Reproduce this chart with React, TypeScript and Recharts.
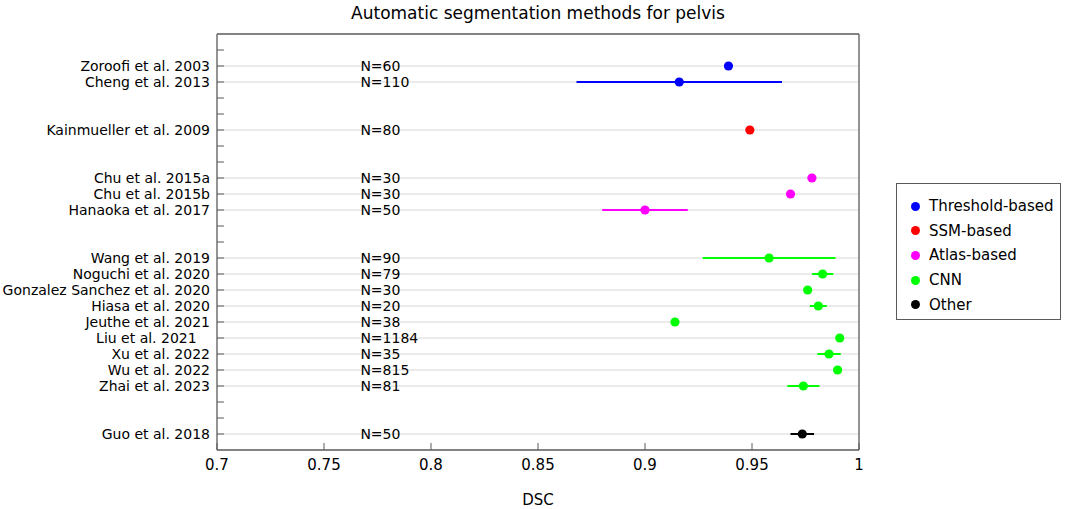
import { ScatterChart, Scatter, XAxis, YAxis, ErrorBar, ReferenceLine, Legend, Label } from 'recharts';

const STUDIES = [
  'Zoroofi et al. 2003',
  'Cheng et al. 2013',
  'Kainmueller et al. 2009',
  'Chu et al. 2015a',
  'Chu et al. 2015b',
  'Hanaoka et al. 2017',
  'Wang et al. 2019',
  'Noguchi et al. 2020',
  'Gonzalez Sanchez et al. 2020',
  'Hiasa et al. 2020',
  'Jeuthe et al. 2021',
  'Liu et al. 2021   ',
  'Xu et al. 2022',
  'Wu et al. 2022',
  'Zhai et al. 2023',
  'Guo et al. 2018',
];
// row position of each study on the y axis (blank rows separate the groups)
const ROWS = [2, 3, 6, 9, 10, 11, 14, 15, 16, 17, 18, 19, 20, 21, 22, 25];
const METHODS = [
  'Threshold-based', 'Threshold-based',
  'SSM-based',
  'Atlas-based', 'Atlas-based', 'Atlas-based',
  'CNN', 'CNN', 'CNN', 'CNN', 'CNN', 'CNN', 'CNN', 'CNN', 'CNN',
  'Other',
];
const DSC = [0.939, 0.916, 0.949, 0.978, 0.968, 0.9, 0.958, 0.983, 0.976, 0.981, 0.914, 0.991, 0.986, 0.99, 0.974, 0.9735];
const DSC_SD = [0, 0.048, 0, 0, 0, 0.02, 0.031, 0.005, 0, 0.004, 0, 0, 0.0055, 0, 0.0075, 0.0055];
const SAMPLE_SIZE = ['N=60', 'N=110', 'N=80', 'N=30', 'N=30', 'N=50', 'N=90', 'N=79', 'N=30', 'N=20', 'N=38', 'N=1184', 'N=35', 'N=815', 'N=81', 'N=50'];

const CATEGORIES = ['Threshold-based', 'SSM-based', 'Atlas-based', 'CNN', 'Other'];
const CATEGORY_COLORS = ['#0000ff', '#ff0000', '#ff00ff', '#00ff00', '#000000'];

const DSC_TICKS = [0.7, 0.75, 0.8, 0.85, 0.9, 0.95, 1];
const ROW_TICKS = [1, 2, 3, 4, 5, 6, 7, 8, 9, 10, 11, 12, 13, 14, 15, 16, 17, 18, 19, 20, 21, 22, 23, 24, 25];
const N_COLUMN = 0.767;

const FONT = '"DejaVu Sans", sans-serif';
const AXIS_COLOR = '#5a5a5a';
const TICK_LEN = 7;
const TICK_GAP = 7;

const studies = STUDIES.map((name, i) => ({
  name,
  row: ROWS[i],
  dsc: DSC[i],
  sd: DSC_SD[i],
  n: SAMPLE_SIZE[i],
  method: METHODS[i],
}));

const nLabels = studies.map((s) => ({ row: s.row, dsc: N_COLUMN, n: s.n }));

function RowLabelTick({ x, y, payload }: any) {
  const idx = ROWS.indexOf(payload.value);
  return (
    <g>
      <line x1={x + TICK_GAP} x2={x + TICK_GAP + TICK_LEN} y1={y} y2={y} stroke={AXIS_COLOR} />
      {idx >= 0 && (
        <text x={x} y={y} textAnchor="end" dominantBaseline="central" fontSize={14} fontFamily={FONT} fill="#000" style={{ whiteSpace: 'pre' }}>
          {STUDIES[idx]}
        </text>
      )}
    </g>
  );
}

function RightTick({ x, y }: any) {
  return <line x1={x} x2={x - TICK_LEN} y1={y} y2={y} stroke={AXIS_COLOR} />;
}

function TopTick({ x, y }: any) {
  return <line x1={x} x2={x} y1={y} y2={y + TICK_LEN} stroke={AXIS_COLOR} />;
}

function BottomTick({ x, y, payload }: any) {
  return (
    <g>
      <line x1={x} x2={x} y1={y} y2={y - TICK_LEN} stroke={AXIS_COLOR} />
      <text x={x} y={y + 15} textAnchor="middle" dominantBaseline="central" fontSize={15} fontFamily={FONT} fill="#000">
        {String(payload.value)}
      </text>
    </g>
  );
}

function Dot({ cx, cy, fill }: any) {
  return <circle cx={cx} cy={cy} r={4.6} fill={fill} />;
}

function NText({ cx, cy, payload }: any) {
  return (
    <text x={cx} y={cy} dominantBaseline="central" fontSize={14} fontFamily={FONT} fill="#000">
      {payload.n}
    </text>
  );
}

function LegendBox({ payload }: any) {
  const items = (payload || [])
    .filter((e: any) => CATEGORIES.includes(e.value))
    .sort((a: any, b: any) => CATEGORIES.indexOf(a.value) - CATEGORIES.indexOf(b.value));
  return (
    <div
      style={{
        width: 165,
        height: 137,
        boxSizing: 'border-box',
        border: `1px solid ${AXIS_COLOR}`,
        background: '#fff',
        paddingTop: 10,
        fontFamily: FONT,
        fontSize: 15,
      }}
    >
      {items.map((entry: any) => (
        <div key={entry.value} style={{ display: 'flex', alignItems: 'center', height: 24.6 }}>
          <span
            style={{
              display: 'inline-block',
              width: 9,
              height: 9,
              borderRadius: '50%',
              background: entry.color,
              marginLeft: 14,
              marginRight: 9,
            }}
          />
          <span style={{ color: '#000' }}>{entry.value}</span>
        </div>
      ))}
    </div>
  );
}

export default function App() {
  return (
    <div style={{ position: 'absolute', left: 0, top: 0 }}>
      <ScatterChart width={1065} height={509} margin={{ top: 0, right: 0, bottom: 0, left: 0 }} style={{ fontFamily: FONT }}>
        <XAxis
          xAxisId="bottom"
          type="number"
          dataKey="dsc"
          domain={[0.7, 1]}
          ticks={DSC_TICKS}
          interval={0}
          height={59}
          tickSize={0}
          tickMargin={0}
          tickLine={false}
          axisLine={{ stroke: AXIS_COLOR, strokeWidth: 1.3 }}
          tick={<BottomTick />}
        >
          <Label value="DSC" position="insideBottom" offset={4} fontSize={15} fontFamily={FONT} fill="#000" />
        </XAxis>
        <XAxis
          xAxisId="top"
          orientation="top"
          type="number"
          domain={[0.7, 1]}
          ticks={DSC_TICKS}
          interval={0}
          height={34}
          tickSize={0}
          tickMargin={0}
          tickLine={false}
          axisLine={{ stroke: AXIS_COLOR, strokeWidth: 1.3 }}
          tick={<TopTick />}
        >
          <Label value="Automatic segmentation methods for pelvis" position="insideTop" offset={7} fontSize={17} fontFamily={FONT} fill="#000" />
        </XAxis>
        <YAxis
          yAxisId="left"
          type="number"
          dataKey="row"
          domain={[0, 26]}
          reversed
          ticks={ROW_TICKS}
          interval={0}
          width={217}
          tickSize={0}
          tickMargin={TICK_GAP}
          tickLine={false}
          axisLine={{ stroke: AXIS_COLOR, strokeWidth: 1.3 }}
          tick={<RowLabelTick />}
        />
        <YAxis
          yAxisId="right"
          orientation="right"
          type="number"
          domain={[0, 26]}
          reversed
          ticks={ROW_TICKS}
          interval={0}
          width={206}
          tickSize={0}
          tickMargin={0}
          tickLine={false}
          axisLine={{ stroke: AXIS_COLOR, strokeWidth: 1.3 }}
          tick={<RightTick />}
        />
        {ROWS.map((r) => (
          <ReferenceLine key={`grid-${r}`} xAxisId="bottom" yAxisId="left" y={r} stroke="#e4e4e4" strokeWidth={1.3} />
        ))}
        <Legend
          layout="vertical"
          align="center"
          verticalAlign="middle"
          wrapperStyle={{ left: 896, top: 183, width: 165, height: 137 }}
          content={<LegendBox />}
        />
        <Scatter
          xAxisId="bottom"
          yAxisId="left"
          data={nLabels}
          legendType="none"
          shape={<NText />}
          isAnimationActive={false}
        />
        {CATEGORIES.map((cat, ci) => (
          <Scatter
            key={cat}
            name={cat}
            xAxisId="bottom"
            yAxisId="left"
            data={studies.filter((s) => s.method === cat)}
            fill={CATEGORY_COLORS[ci]}
            shape={<Dot />}
            isAnimationActive={false}
          >
            <ErrorBar dataKey="sd" direction="x" width={0} stroke={CATEGORY_COLORS[ci]} strokeWidth={2} isAnimationActive={false} />
          </Scatter>
        ))}
      </ScatterChart>
    </div>
  );
}
